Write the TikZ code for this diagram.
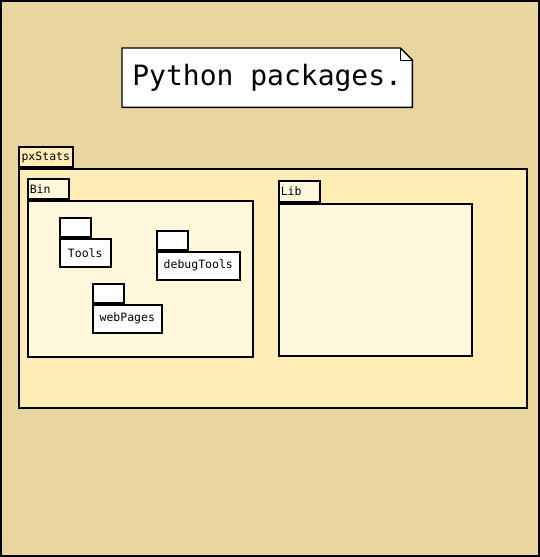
\documentclass[tikz,border=0pt]{standalone}
\usepackage{fontspec}
\setmonofont{DejaVu Sans Mono}
\usetikzlibrary{positioning}
\definecolor{bgback}{RGB}{232,213,160}
\definecolor{outerpkg}{RGB}{255,237,181}
\definecolor{innerpkg}{RGB}{255,248,220}
\tikzset{
  pkgbody/.style={draw, line width=1.6pt, inner sep=0pt, anchor=north west},
  pkgtab/.style={draw, line width=1.6pt, inner sep=1.5pt, anchor=south west,
    font=\ttfamily\fontsize{11.5}{13}\selectfont, align=left},
  leafpkg/.style={pkgbody, fill=white, font=\ttfamily\fontsize{11.5}{13}\selectfont},
  leaftab/.style={pkgtab, fill=white, minimum width=31pt, minimum height=19pt}
}
\begin{document}
\begin{tikzpicture}[x=1pt, y=-1pt]
    \useasboundingbox (0,0) rectangle (540,557);
    \draw [fill=bgback, line width=2pt] (1,1) rectangle (539,556);

    % note with folded corner
    \node (note) [fill=white, minimum width=290pt, minimum height=59pt, inner sep=0pt,
      anchor=north west, font=\ttfamily\fontsize{28}{30}\selectfont] at (122,48) {Python packages.};
    \fill [bgback] ([xshift=-12pt]note.north east) -- (note.north east) -- ([yshift=-12pt]note.north east) -- cycle;
    \draw [line width=1.4pt] (note.north west) -- ([xshift=-12pt]note.north east)
      -- ([yshift=-12pt]note.north east) -- (note.south east) -- (note.south west) -- cycle;
    \draw [line width=0.8pt] ([xshift=-12pt]note.north east) -- ([xshift=-12pt, yshift=-12pt]note.north east)
      -- ([yshift=-12pt]note.north east);

    % pxStats
    \node (pxstats) [pkgbody, fill=outerpkg, minimum width=508pt, minimum height=239pt] at (18,168) {};
    \node (pxstatstab) [pkgtab, fill=outerpkg, minimum width=54pt, minimum height=20pt,
      inner sep=1pt] at (pxstats.north west) {pxStats};

    % Bin
    \node (bin) [pkgbody, fill=innerpkg, minimum width=225pt, minimum height=156pt] at (27,200) {};
    \node (bintab) [pkgtab, fill=innerpkg, minimum width=41pt, minimum height=20pt,
      text width=37pt] at (bin.north west) {Bin};

    % Lib
    \node (lib) [pkgbody, fill=innerpkg, minimum width=193pt, minimum height=152pt] at (278,203) {};
    \node (libtab) [pkgtab, fill=innerpkg, minimum width=41pt, minimum height=21pt,
      text width=37pt] at (lib.north west) {Lib};

    % packages inside Bin
    \node (tools) [leafpkg, minimum width=51pt, minimum height=28pt] at (59,238) {Tools};
    \node (toolstab) [leaftab] at (tools.north west) {};

    \node (debugtools) [leafpkg, minimum width=83pt, minimum height=28pt] at (156,251) {debugTools};
    \node (debugtoolstab) [leaftab] at (debugtools.north west) {};

    \node (webpages) [leafpkg, minimum width=69pt, minimum height=28pt] at (92,304) {webPages};
    \node (webpagestab) [leaftab] at (webpages.north west) {};
\end{tikzpicture}
\end{document}
